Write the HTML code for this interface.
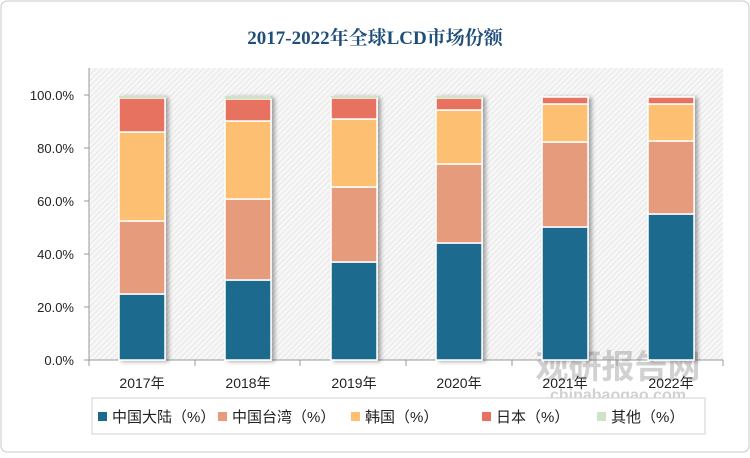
<!DOCTYPE html>
<html><head><meta charset="utf-8"><style>
body{margin:0;background:#fff;}
</style></head><body>
<svg width="750" height="453" xmlns="http://www.w3.org/2000/svg" font-family="'Liberation Sans','Noto Sans CJK SC',sans-serif">
<defs>
<pattern id="h" width="4" height="4" patternUnits="userSpaceOnUse" patternTransform="rotate(45)">
<rect width="4" height="4" fill="#f7f7f7"/><line x1="0" y1="0" x2="0" y2="4" stroke="#e2e2e2" stroke-width="1.5"/>
</pattern>
<filter id="s" x="-20%" y="-5%" width="150%" height="110%"><feDropShadow dx="3" dy="1" stdDeviation="2" flood-color="#000" flood-opacity="0.35"/></filter>
</defs>
<rect x="1" y="1" width="748" height="451" rx="6" fill="#fff" stroke="#c8c8c8"/>
<text x="375" y="44" text-anchor="middle" font-size="19" font-weight="bold" fill="#1f4e79" font-family="'Liberation Serif','Noto Serif CJK SC',serif">2017-2022年全球LCD市场份额</text>
<rect x="89" y="68" width="634" height="292" fill="url(#h)"/>
<line x1="89" y1="68" x2="89" y2="360" stroke="#999"/>
<line x1="89" y1="360" x2="723" y2="360" stroke="#999"/>
<g stroke="#999">
<line x1="84" y1="95" x2="89" y2="95"/><line x1="84" y1="148" x2="89" y2="148"/><line x1="84" y1="201" x2="89" y2="201"/><line x1="84" y1="254" x2="89" y2="254"/><line x1="84" y1="307" x2="89" y2="307"/><line x1="84" y1="360" x2="89" y2="360"/>
<line x1="89" y1="360" x2="89" y2="366"/><line x1="195" y1="360" x2="195" y2="366"/><line x1="300" y1="360" x2="300" y2="366"/><line x1="406" y1="360" x2="406" y2="366"/><line x1="512" y1="360" x2="512" y2="366"/><line x1="617" y1="360" x2="617" y2="366"/><line x1="723" y1="360" x2="723" y2="366"/>
</g>
<g font-size="13" fill="#222" text-anchor="end">
<text x="74" y="100">100.0%</text><text x="74" y="153">80.0%</text><text x="74" y="206">60.0%</text><text x="74" y="259">40.0%</text><text x="74" y="312">20.0%</text><text x="74" y="365">0.0%</text>
</g>
<text x="618" y="378" text-anchor="middle" font-size="33" font-weight="bold" fill="#9a9a9a" opacity="0.45">观研报告网</text>
<text x="618" y="400" text-anchor="middle" font-size="16" font-weight="bold" fill="#9a9a9a" opacity="0.45">chinabaogao.com</text>
<g font-size="14" fill="#222" text-anchor="middle">
<text x="142" y="388">2017年</text><text x="248" y="388">2018年</text><text x="354" y="388">2019年</text><text x="459" y="388">2020年</text><text x="565" y="388">2021年</text><text x="671" y="388">2022年</text>
</g>
<g stroke="#fff" stroke-width="1.5" filter="url(#s)">
<rect x="119" y="294" width="46" height="66" fill="#1b6a8e"/>
<rect x="119" y="221" width="46" height="73" fill="#e69b7b"/>
<rect x="119" y="132" width="46" height="89" fill="#fdbf71"/>
<rect x="119" y="98" width="46" height="34" fill="#e87261"/>
<rect x="119" y="96" width="46" height="2" fill="#cfe3c9" stroke="none"/>
<rect x="225" y="280" width="46" height="80" fill="#1b6a8e"/>
<rect x="225" y="199" width="46" height="81" fill="#e69b7b"/>
<rect x="225" y="121" width="46" height="78" fill="#fdbf71"/>
<rect x="225" y="99" width="46" height="22" fill="#e87261"/>
<rect x="225" y="96" width="46" height="3" fill="#cfe3c9" stroke="none"/>
<rect x="331" y="262" width="46" height="98" fill="#1b6a8e"/>
<rect x="331" y="187" width="46" height="75" fill="#e69b7b"/>
<rect x="331" y="119" width="46" height="68" fill="#fdbf71"/>
<rect x="331" y="98" width="46" height="21" fill="#e87261"/>
<rect x="331" y="96" width="46" height="2" fill="#cfe3c9" stroke="none"/>
<rect x="436" y="243" width="46" height="117" fill="#1b6a8e"/>
<rect x="436" y="164" width="46" height="79" fill="#e69b7b"/>
<rect x="436" y="110" width="46" height="54" fill="#fdbf71"/>
<rect x="436" y="98" width="46" height="12" fill="#e87261"/>
<rect x="436" y="96" width="46" height="2" fill="#cfe3c9" stroke="none"/>
<rect x="542" y="227" width="46" height="133" fill="#1b6a8e"/>
<rect x="542" y="142" width="46" height="85" fill="#e69b7b"/>
<rect x="542" y="104" width="46" height="38" fill="#fdbf71"/>
<rect x="542" y="97" width="46" height="7" fill="#e87261"/>
<rect x="648" y="214" width="46" height="146" fill="#1b6a8e"/>
<rect x="648" y="141" width="46" height="73" fill="#e69b7b"/>
<rect x="648" y="104" width="46" height="37" fill="#fdbf71"/>
<rect x="648" y="97" width="46" height="7" fill="#e87261"/>
</g>
<rect x="92" y="398" width="613" height="36" fill="#fff" stroke="#d0d0d0"/>
<g font-size="15" fill="#222">
<rect x="98" y="412" width="9" height="9" fill="#1b6a8e"/><text x="112" y="422">中国大陆（%）</text>
<rect x="218" y="412" width="9" height="9" fill="#e69b7b"/><text x="232" y="422">中国台湾（%）</text>
<rect x="351" y="412" width="9" height="9" fill="#fdbf71"/><text x="365" y="422">韩国（%）</text>
<rect x="482" y="412" width="9" height="9" fill="#e87261"/><text x="496" y="422">日本（%）</text>
<rect x="597" y="412" width="9" height="9" fill="#cfe3c9"/><text x="611" y="422">其他（%）</text>
</g>
</svg>
</body></html>
